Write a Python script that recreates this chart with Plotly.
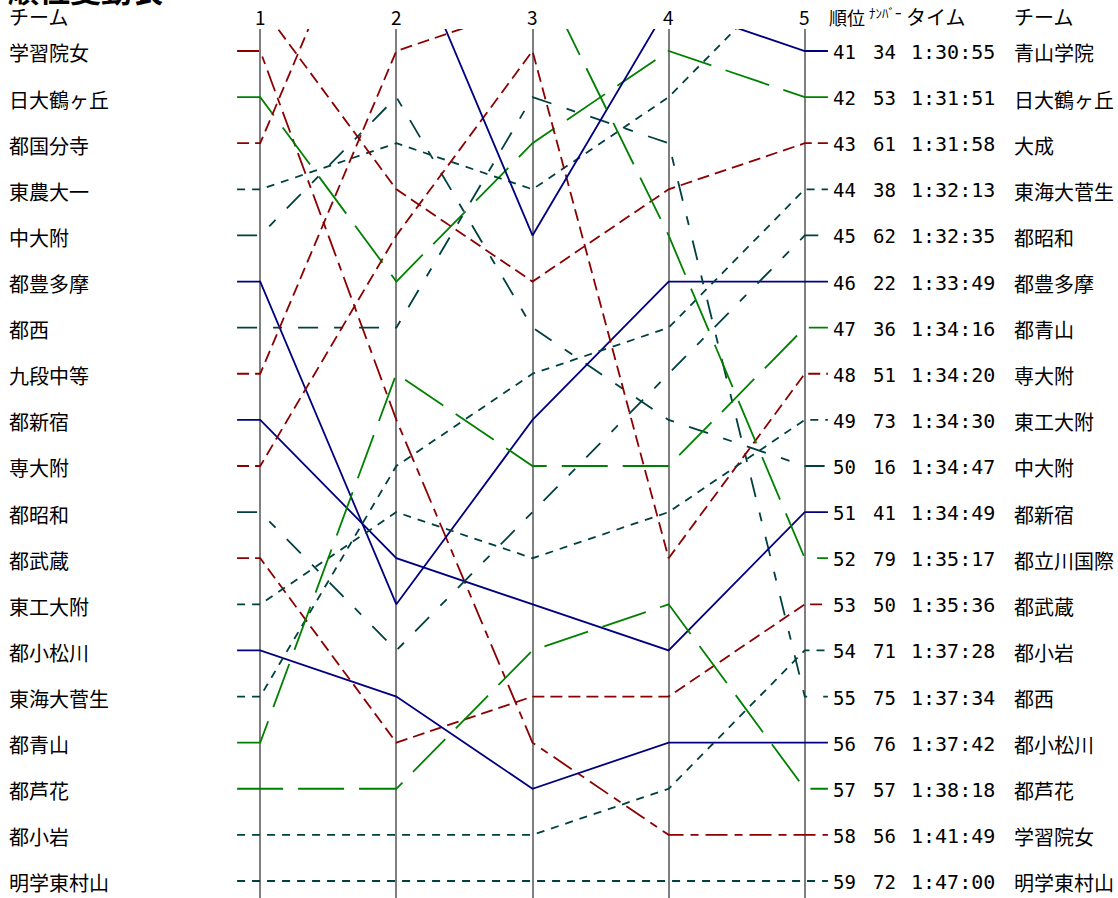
import plotly.graph_objects as go

# ---------------- data ----------------
STAGES = ["1", "2", "3", "4", "5"]

TEAMS = ["学習院女", "日大鶴ヶ丘", "都国分寺", "東農大一", "中大附", "都豊多摩", "都西",
         "九段中等", "都新宿", "専大附", "都昭和", "都武蔵", "東工大附", "都小松川",
         "東海大菅生", "都青山", "都芦花", "都小岩", "明学東村山", "大成", "青山学院", "都立川国際"]

RANK_S1 = [41, 42, 43, 44, 45, 46, 47, 48, 49, 50, 51, 52, 53, 54, 55, 56, 57, 58, 59, 40, None, None]
RANK_S2 = [49, 46, 36, 43, 42, 53, 47, 41, 52, 45, 54, 56, 51, 55, 50, 48, 57, 58, 59, 44, 38, None]
RANK_S3 = [56, 43, None, 44, 47, 49, 42, 40, 53, 41, 51, 55, 52, 57, 48, 50, 54, 58, 59, 46, 45, 39]
RANK_S4 = [58, 41, None, 42, 49, 46, 43, None, 54, 52, 48, 55, 51, 56, 47, 50, 53, 57, 59, 44, 40, 45]
RANK_S5 = [58, 42, None, 39, 50, 46, 55, None, 51, 48, 45, 53, 49, 56, 44, 47, 57, 54, 59, 43, 41, 52]

FINAL_RANK = ["41", "42", "43", "44", "45", "46", "47", "48", "49", "50",
              "51", "52", "53", "54", "55", "56", "57", "58", "59"]
FINAL_BIB = ["34", "53", "61", "38", "62", "22", "36", "51", "73", "16",
             "41", "79", "50", "71", "75", "76", "57", "56", "72"]
FINAL_TIME = ["1:30:55", "1:31:51", "1:31:58", "1:32:13", "1:32:35", "1:33:49", "1:34:16",
              "1:34:20", "1:34:30", "1:34:47", "1:34:49", "1:35:17", "1:35:36", "1:37:28",
              "1:37:34", "1:37:42", "1:38:18", "1:41:49", "1:47:00"]
FINAL_TEAM = ["青山学院", "日大鶴ヶ丘", "大成", "東海大菅生", "都昭和", "都豊多摩", "都青山",
              "専大附", "東工大附", "中大附", "都新宿", "都立川国際", "都武蔵", "都小岩",
              "都西", "都小松川", "都芦花", "学習院女", "明学東村山"]

# ---------------- styles ----------------
RED, GREEN, NAVY, TEAL = "#8b0000", "#008000", "#000080", "#004040"
S_RED = "12px,6px"
S_REDL = "22px,7px,8px,7px"
S_GREEN = "46px,15px"
S_NAVY = "solid"
S_TEALS = "8px,7px"
S_TEALL = "20px,16px,9px,16px"
STYLE = {
    "学習院女": (RED, S_REDL), "日大鶴ヶ丘": (GREEN, S_GREEN), "都国分寺": (RED, S_RED),
    "東農大一": (TEAL, S_TEALS), "中大附": (TEAL, S_TEALL), "都豊多摩": (NAVY, S_NAVY),
    "都西": (TEAL, S_TEALL), "九段中等": (RED, S_RED), "都新宿": (NAVY, S_NAVY),
    "専大附": (RED, S_RED), "都昭和": (TEAL, S_TEALL), "都武蔵": (RED, S_RED),
    "東工大附": (TEAL, S_TEALS), "都小松川": (NAVY, S_NAVY), "東海大菅生": (TEAL, S_TEALS),
    "都青山": (GREEN, S_GREEN), "都芦花": (GREEN, S_GREEN), "都小岩": (TEAL, S_TEALS),
    "明学東村山": (TEAL, S_TEALS), "大成": (RED, S_RED), "青山学院": (NAVY, S_NAVY),
    "都立川国際": (GREEN, S_GREEN),
}

W, H = 1118, 898
L, R, T, B = 233, 286, 29, 0
PW, PH = W - L - R, H - T - B
STUB = 0.17
FONT = "Noto Sans CJK JP"
NUMFONT = "DejaVu Sans Mono"


def xp(px):
    """page pixel x -> paper x"""
    return (px - L) / PW


def yp(py):
    """page pixel y -> paper y"""
    return (H - B - py) / PH


fig = go.Figure()
xs_stage = list(range(1, len(STAGES) + 1))
for i, team in enumerate(TEAMS):
    ranks = [RANK_S1[i], RANK_S2[i], RANK_S3[i], RANK_S4[i], RANK_S5[i]]
    xs = [xs_stage[0] - STUB] + xs_stage + [xs_stage[-1] + STUB]
    ys = [ranks[0]] + ranks + [ranks[-1]]
    color, dash = STYLE[team]
    fig.add_trace(go.Scatter(x=xs, y=ys, mode="lines", name=team,
                             line=dict(color=color, width=1.8, dash=dash),
                             connectgaps=False, hoverinfo="name"))

ann = []
# title (partly above the top of the page, as in the reference)
ann.append(dict(text="<b>順位変動表</b>", x=xp(6), y=yp(-11), xanchor="left", yanchor="middle",
                font=dict(size=31, family=FONT, color="#000")))
ann.append(dict(text="チーム", x=xp(7), y=yp(17), xanchor="left", yanchor="middle",
                font=dict(size=20, family=FONT, color="#000")))
for k, s in enumerate(STAGES):
    ann.append(dict(text=s, x=xs_stage[k], xref="x", y=yp(17), xanchor="center", yanchor="middle",
                    font=dict(size=19, family=FONT, color="#000")))
# right header
ann.append(dict(text="順位", x=xp(827), y=yp(17), xanchor="left", yanchor="middle",
                font=dict(size=18, family=FONT, color="#000")))
ann.append(dict(text="ﾅﾝﾊﾞｰ", x=xp(867), y=yp(13), xanchor="left", yanchor="middle",
                font=dict(size=13, family=FONT, color="#000")))
ann.append(dict(text="タイム", x=xp(904), y=yp(17), xanchor="left", yanchor="middle",
                font=dict(size=20, family=FONT, color="#000")))
ann.append(dict(text="チーム", x=xp(1012), y=yp(17), xanchor="left", yanchor="middle",
                font=dict(size=20, family=FONT, color="#000")))

# left team names (stage-1 order)
for i, team in enumerate(TEAMS):
    r = RANK_S1[i]
    if r is not None and 41 <= r <= 59:
        ann.append(dict(text=team, x=xp(7), y=r, yref="y", xanchor="left", yanchor="middle",
                        yshift=-2, font=dict(size=20, family=FONT, color="#000")))

# right result table
for k in range(len(FINAL_RANK)):
    r = int(FINAL_RANK[k])
    ann.append(dict(text=FINAL_RANK[k], x=xp(858), y=r, yref="y", xanchor="right", yanchor="middle",
                    yshift=-1, font=dict(size=19, family=NUMFONT, color="#000")))
    ann.append(dict(text=FINAL_BIB[k], x=xp(898), y=r, yref="y", xanchor="right", yanchor="middle",
                    yshift=-1, font=dict(size=19, family=NUMFONT, color="#000")))
    ann.append(dict(text=FINAL_TIME[k], x=xp(953), y=r, yref="y", xanchor="center", yanchor="middle",
                    yshift=-1, font=dict(size=20, family=NUMFONT, color="#000")))
    ann.append(dict(text=FINAL_TEAM[k], x=xp(1012), y=r, yref="y", xanchor="left", yanchor="middle",
                    yshift=-2, font=dict(size=20, family=FONT, color="#000")))

for a in ann:
    a.setdefault("xref", "paper")
    a.setdefault("yref", "paper")
    a["showarrow"] = False

fig.update_layout(
    width=W, height=H,
    margin=dict(l=L, r=R, t=T, b=B, pad=0),
    paper_bgcolor="white", plot_bgcolor="white",
    showlegend=False,
    annotations=ann,
    xaxis=dict(range=[0.8, 5.2], tickvals=xs_stage, showticklabels=False, ticks="",
               showgrid=True, gridcolor="#7f7f7f", gridwidth=1.8, zeroline=False, showline=False,
               fixedrange=True),
    yaxis=dict(range=[59.369, 40.523], showgrid=False, showticklabels=False, ticks="",
               zeroline=False, showline=False, fixedrange=True),
)

fig.write_html("out.html",
               config={"displayModeBar": False},
               post_script="document.body.style.margin='0px';document.body.style.overflow='hidden';")
